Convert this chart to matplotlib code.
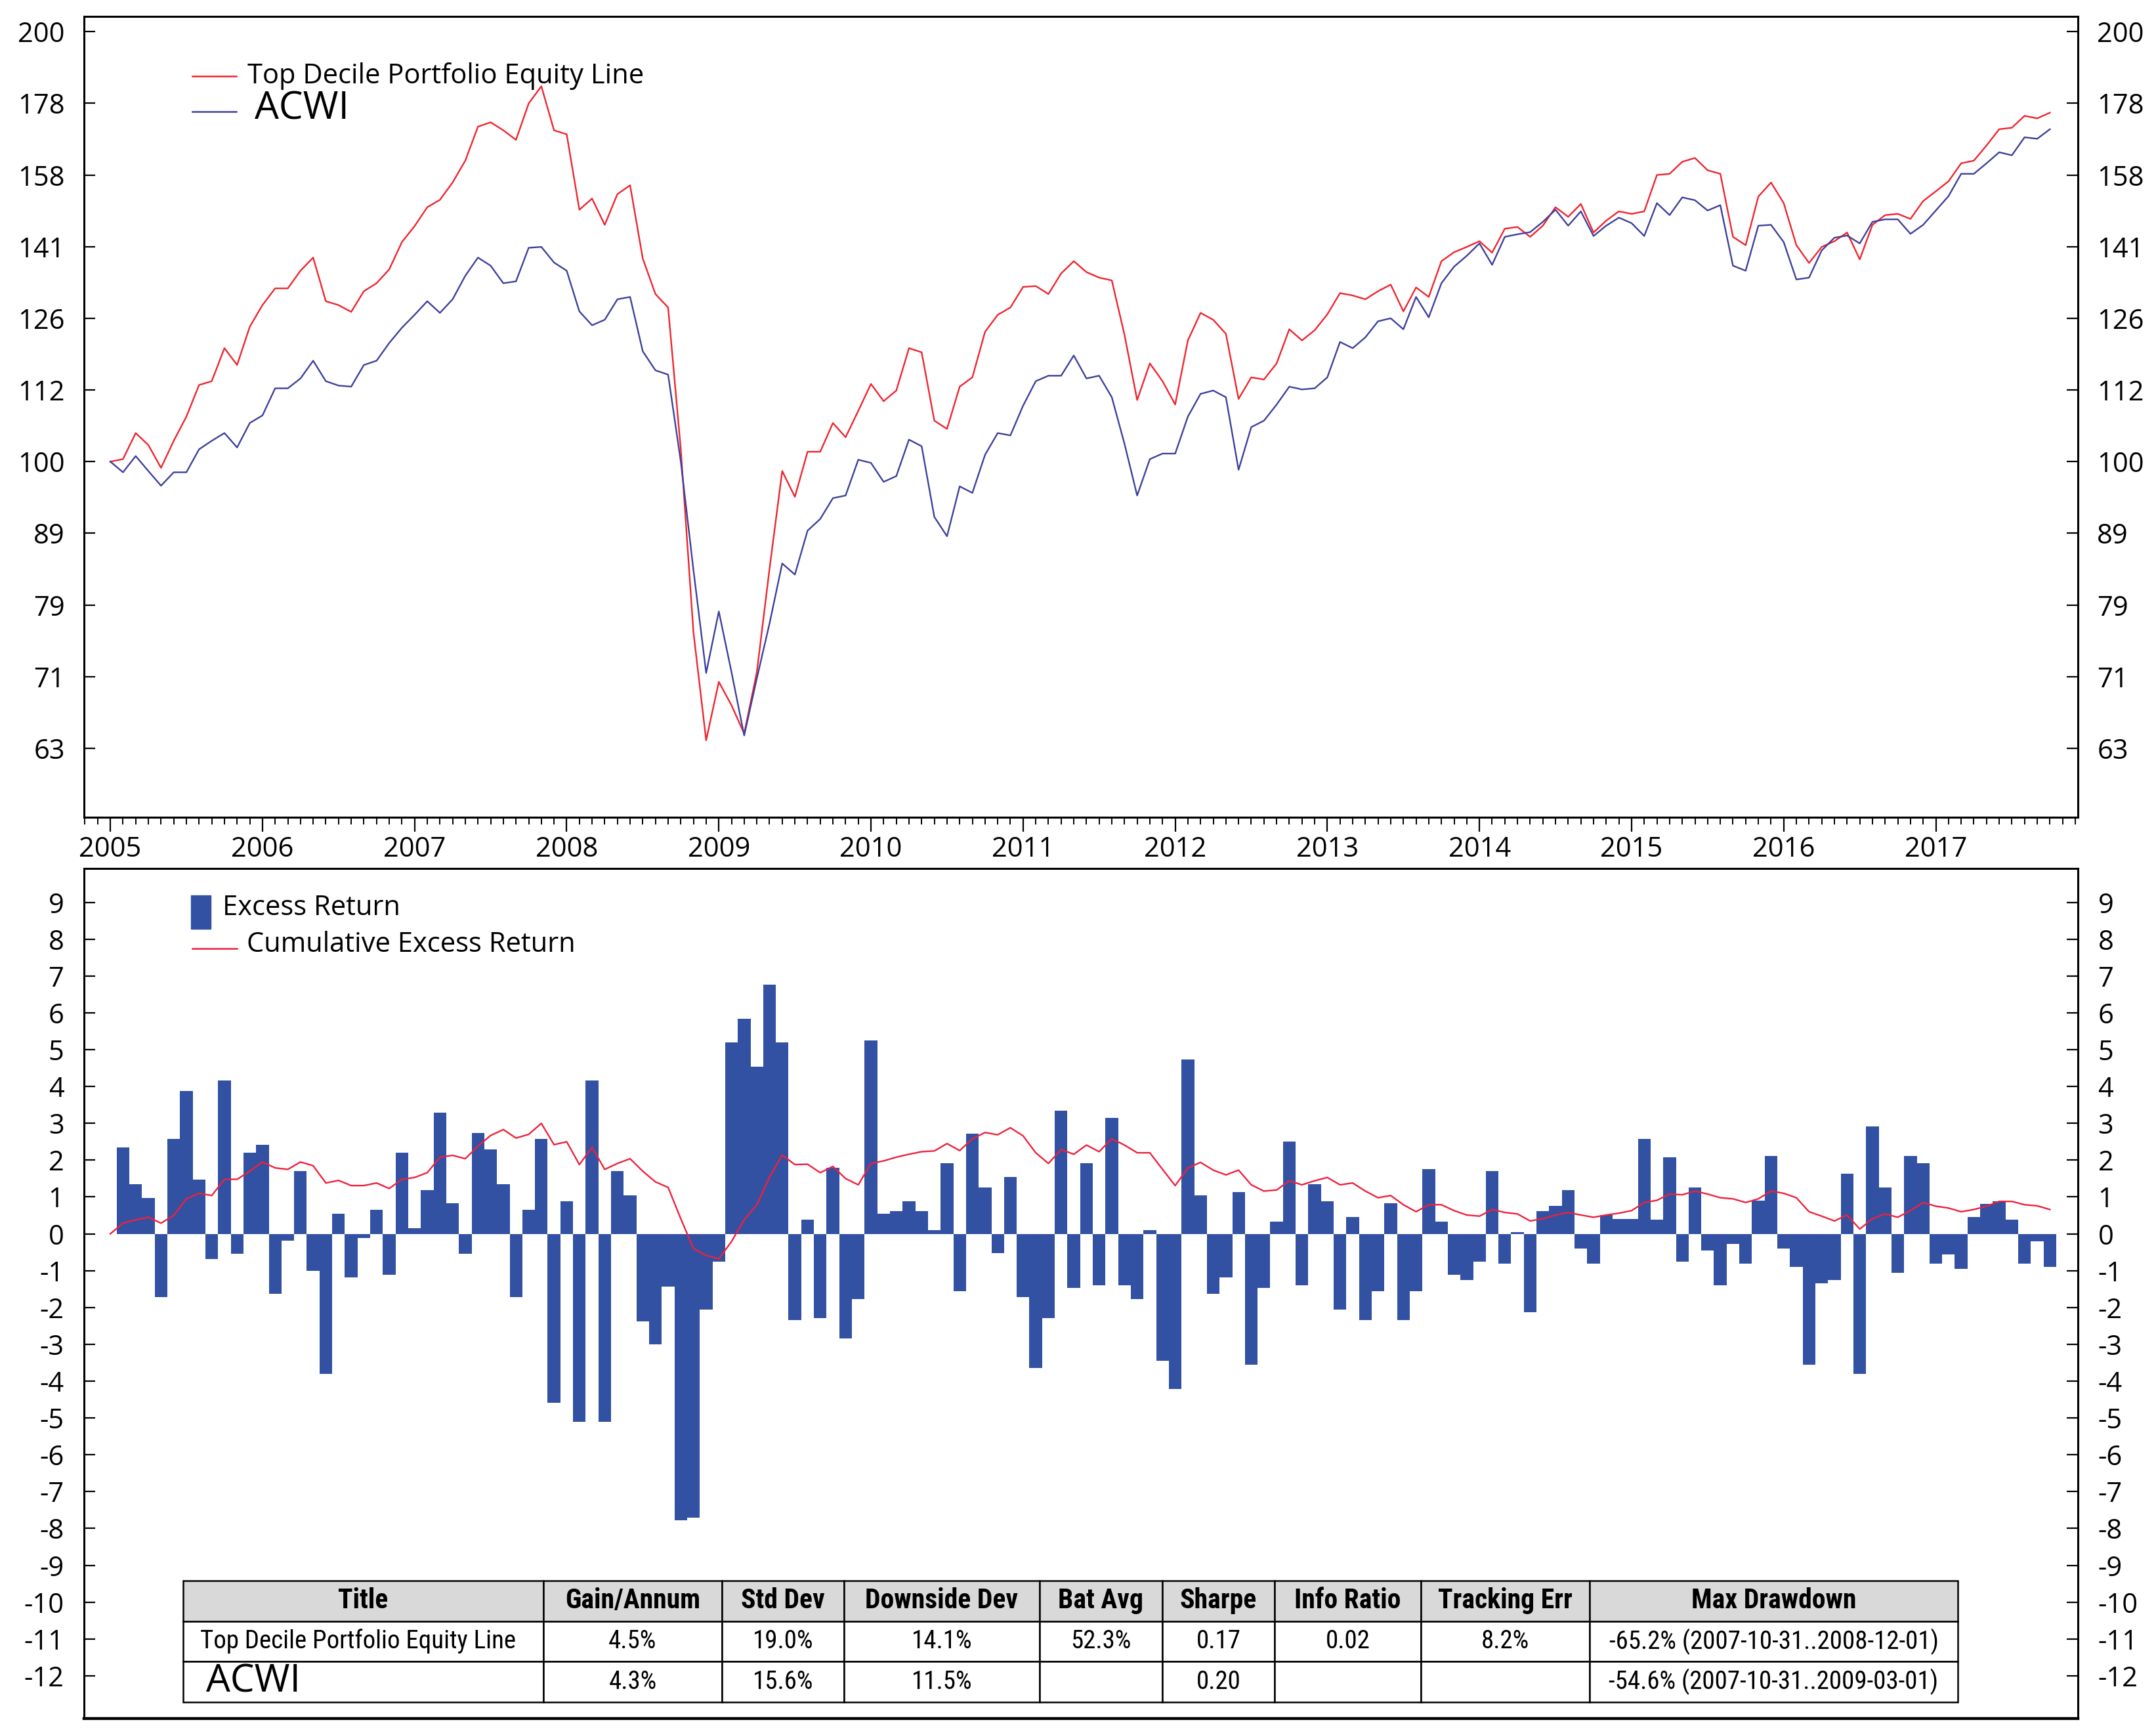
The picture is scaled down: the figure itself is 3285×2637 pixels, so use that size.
import numpy as np
import matplotlib
matplotlib.use('Agg')
import matplotlib.pyplot as plt
from matplotlib.lines import Line2D
from matplotlib.patches import Rectangle
from matplotlib import font_manager
from matplotlib.ticker import FixedLocator, NullLocator

plt.rcParams['font.family'] = ['Open Sans', 'DejaVu Sans']
plt.rcParams['axes.unicode_minus'] = False

# equity lines, monthly from Jan 2005 to Oct 2017 (start = 100)
portfolio = [
    100.0, 100.4, 104.7, 102.7, 99.0, 103.4, 107.5, 113.1, 113.8, 120.0, 116.8, 124.2,
    128.6, 132.1, 132.1, 135.9, 138.8, 129.4, 128.6, 127.2, 131.5, 133.2, 136.2, 142.3,
    146.0, 150.5, 152.3, 156.6, 162.2, 171.3, 172.5, 170.3, 167.7, 177.8, 182.8, 170.3,
    169.2, 149.9, 152.6, 146.3, 153.7, 155.9, 138.6, 130.9, 128.1, 102.0, 76.0, 63.9,
    70.2, 67.6, 64.6, 71.3, 84.2, 98.5, 94.5, 101.6, 101.6, 106.4, 104.0, 108.5,
    113.3, 110.2, 112.1, 120.0, 119.2, 106.8, 105.4, 112.8, 114.5, 123.2, 126.6, 128.1,
    132.4, 132.6, 130.9, 135.3, 138.0, 135.6, 134.4, 133.8, 122.6, 110.4, 117.1, 113.8,
    109.6, 121.5, 127.0, 125.6, 122.8, 110.6, 114.5, 114.1, 117.1, 123.7, 121.5, 123.5,
    126.7, 131.1, 130.6, 129.8, 131.5, 132.9, 127.3, 132.3, 130.3, 138.0, 140.0, 141.2,
    142.5, 139.9, 145.4, 145.8, 143.5, 146.1, 150.5, 148.2, 151.3, 144.5, 147.3, 149.5,
    148.9, 149.5, 158.5, 158.8, 161.9, 162.9, 159.7, 158.8, 143.5, 141.6, 153.1, 156.6,
    151.5, 141.6, 137.6, 141.2, 142.5, 144.5, 138.4, 146.3, 148.6, 148.9, 147.7, 152.0,
    154.4, 156.9, 161.5, 162.2, 166.2, 170.6, 171.0, 174.3, 173.6, 175.2,
]
acwi = [
    100.0, 98.3, 100.9, 98.5, 96.2, 98.3, 98.3, 102.0, 103.4, 104.7, 102.3, 106.4,
    107.7, 112.5, 112.5, 114.3, 117.6, 113.8, 113.0, 112.8, 116.8, 117.6, 121.0, 124.0,
    126.6, 129.4, 127.0, 129.8, 134.8, 138.8, 137.0, 133.2, 133.6, 141.0, 141.2, 137.7,
    135.9, 127.3, 124.5, 125.6, 129.8, 130.3, 119.4, 115.8, 115.0, 100.0, 84.0, 71.2,
    78.6, 71.3, 64.4, 70.6, 77.1, 84.9, 83.4, 89.5, 91.2, 94.3, 94.7, 100.3,
    99.8, 96.8, 97.7, 103.6, 102.5, 91.5, 88.7, 96.1, 95.1, 101.1, 104.7, 104.3,
    109.4, 113.8, 114.8, 114.8, 118.6, 114.3, 114.8, 110.9, 102.9, 94.7, 100.4, 101.3,
    101.3, 107.5, 111.5, 112.1, 110.9, 98.7, 105.7, 106.8, 109.6, 112.8, 112.3, 112.5,
    114.5, 121.2, 120.0, 122.1, 125.3, 125.9, 123.7, 130.3, 126.1, 133.2, 136.8, 139.2,
    142.0, 137.2, 143.5, 144.1, 144.6, 147.0, 149.9, 146.1, 149.5, 143.7, 146.1, 148.0,
    146.7, 143.7, 151.5, 148.6, 152.9, 152.2, 149.7, 151.0, 137.0, 135.9, 146.1, 146.3,
    142.3, 134.0, 134.4, 140.4, 143.3, 143.8, 142.0, 147.0, 147.6, 147.6, 144.2, 146.3,
    149.7, 153.2, 158.8, 158.8, 161.5, 164.4, 163.6, 168.4, 168.0, 170.6,
]

# monthly excess return (%), Feb 2005 .. Oct 2017
excess = [
    2.35, 1.35, 0.98, -1.71, 2.58, 3.88, 1.48, -0.69, 4.17, -0.55, 2.2, 2.41,
    -1.63, -0.18, 1.7, -1.0, -3.81, 0.54, -1.19, -0.11, 0.66, -1.11, 2.2, 0.16,
    1.19, 3.29, 0.83, -0.55, 2.73, 2.29, 1.35, -1.71, 0.66, 2.58, -4.59, 0.89,
    -5.11, 4.17, -5.11, 1.7, 1.04, -2.38, -3.0, -1.43, -7.78, -7.71, -2.06, -0.75,
    5.19, 5.83, 4.54, 6.76, 5.19, -2.34, 0.39, -2.28, 1.79, -2.84, -1.77, 5.25,
    0.54, 0.62, 0.89, 0.62, 0.1, 1.91, -1.55, 2.72, 1.26, -0.53, 1.54, -1.71,
    -3.65, -2.28, 3.35, -1.46, 1.91, -1.4, 3.14, -1.4, -1.78, 0.1, -3.44, -4.21,
    4.73, 1.04, -1.63, -1.19, 1.13, -3.56, -1.46, 0.33, 2.5, -1.4, 1.35, 0.89,
    -2.05, 0.45, -2.34, -1.55, 0.83, -2.34, -1.55, 1.76, 0.33, -1.11, -1.25, -0.75,
    1.7, -0.81, 0.05, -2.13, 0.62, 0.76, 1.19, -0.4, -0.81, 0.51, 0.41, 0.41,
    2.58, 0.39, 2.08, -0.75, 1.26, -0.46, -1.4, -0.28, -0.81, 0.9, 2.12, -0.4,
    -0.9, -3.56, -1.34, -1.25, 1.63, -3.8, 2.91, 1.26, -1.05, 2.12, 1.91, -0.81,
    -0.56, -0.96, 0.45, 0.81, 0.88, 0.39, -0.81, -0.21, -0.9,
]

# cumulative excess return line, Jan 2005 .. Oct 2017
cum_excess = [
    0.0, 0.29, 0.38, 0.45, 0.29, 0.5, 0.95, 1.1, 1.04, 1.48, 1.48, 1.7,
    1.95, 1.79, 1.75, 1.95, 1.85, 1.38, 1.45, 1.31, 1.31, 1.38, 1.23, 1.48,
    1.53, 1.66, 2.08, 2.13, 2.04, 2.38, 2.67, 2.83, 2.6, 2.7, 3.0, 2.42,
    2.5, 1.88, 2.35, 1.75, 1.91, 2.04, 1.7, 1.41, 1.26, 0.41, -0.4, -0.59,
    -0.68, -0.21, 0.38, 0.79, 1.54, 2.14, 1.88, 1.89, 1.66, 1.83, 1.5, 1.33,
    1.91, 1.98, 2.08, 2.16, 2.23, 2.25, 2.45, 2.26, 2.58, 2.75, 2.69, 2.88,
    2.66, 2.2, 1.91, 2.29, 2.16, 2.41, 2.23, 2.58, 2.41, 2.2, 2.2, 1.75,
    1.31, 1.79, 1.94, 1.73, 1.6, 1.73, 1.33, 1.16, 1.19, 1.44, 1.33, 1.44,
    1.53, 1.33, 1.38, 1.16, 0.98, 1.04, 0.79, 0.6, 0.79, 0.79, 0.63, 0.51,
    0.48, 0.66, 0.58, 0.54, 0.35, 0.41, 0.51, 0.58, 0.51, 0.45, 0.51, 0.56,
    0.63, 0.85, 0.91, 1.08, 1.06, 1.16, 1.08, 0.98, 0.95, 0.85, 0.95, 1.16,
    1.1, 0.98, 0.6, 0.48, 0.35, 0.51, 0.13, 0.41, 0.54, 0.45, 0.63, 0.85,
    0.75, 0.7, 0.6, 0.66, 0.75, 0.88, 0.88, 0.79, 0.76, 0.66,
]

years = list(range(2005, 2018))
top_tick_labels = ['63', '71', '79', '89', '100', '112', '126', '141', '158', '178', '200']

col_labels = ['Title', 'Gain/Annum', 'Std Dev', 'Downside Dev', 'Bat Avg', 'Sharpe',
              'Info Ratio', 'Tracking Err', 'Max Drawdown']
row_portfolio = ['Top Decile Portfolio Equity Line', '4.5%', '19.0%', '14.1%', '52.3%',
                 '0.17', '0.02', '8.2%', '-65.2% (2007-10-31..2008-12-01)']
row_acwi = ['ACWI', '4.3%', '15.6%', '11.5%', '', '0.20', '', '',
            '-54.6% (2007-10-31..2009-03-01)']

RED = '#f0232d'
BLUE = '#3c3f9c'
BAR = '#3251a3'
CUM = '#f0203c'

months = 2005 + np.arange(len(portfolio)) / 12
bar_x = 2005 + (np.arange(len(excess)) + 1) / 12

W, H = 3285, 2637
fig = plt.figure(figsize=(W / 100, H / 100), dpi=100)
ax1 = fig.add_axes([128 / W, 1 - 1245 / H, 3038 / W, 1220 / H])
ax2 = fig.add_axes([128 / W, 1 - 2618 / H, 3038 / W, 1295 / H])

xlim = (2004.827, 2017.934)

# ---- top: equity lines ----
ax1.plot(months, portfolio, color=RED, lw=1.7)
ax1.plot(months, acwi, color=BLUE, lw=1.7)
ax1.set_yscale('log')
ax1.set_ylim(56.47, 204.5)
ax1.yaxis.set_major_locator(FixedLocator(10 ** (2 + np.arange(-4, 7) / 20)))
ax1.yaxis.set_minor_locator(NullLocator())
ax1.set_yticklabels(top_tick_labels)
ax1.set_xlim(*xlim)
ax1.set_xticks(years)
ax1.set_xticklabels([str(y) for y in years])
ax1.xaxis.set_minor_locator(FixedLocator(2004 + np.arange(10, 168) / 12))
ax1.tick_params(axis='x', which='major', direction='out', length=16, width=1.6,
                labelsize=30, pad=4)
ax1.tick_params(axis='x', which='minor', direction='out', length=8, width=1.4)
ax1.tick_params(axis='y', which='major', direction='in', length=12.5, width=1.6,
                labelsize=30, pad=21, left=True, right=True, labelleft=True, labelright=True)

# legend drawn by hand
ax1.add_line(Line2D([0.0543, 0.0764], [0.9254, 0.9254], color=RED, lw=1.8,
                    transform=ax1.transAxes))
ax1.text(0.082, 0.9254, 'Top Decile Portfolio Equity Line', transform=ax1.transAxes,
         fontsize=30, va='center', ha='left')
ax1.add_line(Line2D([0.0543, 0.0764], [0.881, 0.881], color=BLUE, lw=1.8,
                    transform=ax1.transAxes))
ax1.text(0.0856, 0.884, 'ACWI', transform=ax1.transAxes, fontsize=42,
         va='center', ha='left')

# ---- bottom: excess return ----
ax2.bar(bar_x, excess, width=1 / 12, color=BAR, linewidth=0)
ax2.plot(months, cum_excess, color=CUM, lw=1.7)
ax2.set_xlim(*xlim)
ax2.set_ylim(-13.16, 9.92)
ax2.set_yticks(range(-12, 10))
ax2.tick_params(axis='x', bottom=False, labelbottom=False)
ax2.tick_params(axis='y', direction='in', length=12, width=1.6, labelsize=30, pad=22,
                left=True, right=True, labelleft=True, labelright=True)

ax2.add_patch(Rectangle((0.0537, 0.929), 0.0098, 0.0394, color=BAR,
                        transform=ax2.transAxes))
ax2.text(0.0695, 0.9537, 'Excess Return', transform=ax2.transAxes, fontsize=30,
         va='center', ha='left')
ax2.add_line(Line2D([0.0543, 0.0767], [0.9058, 0.9058], color=CUM, lw=1.8,
                    transform=ax2.transAxes))
ax2.text(0.0816, 0.9104, 'Cumulative Excess Return', transform=ax2.transAxes,
         fontsize=30, va='center', ha='left')

for ax in (ax1, ax2):
    for sp in ax.spines.values():
        sp.set_linewidth(2.2)
ax2.spines['bottom'].set_linewidth(3.2)

# ---- statistics table ----
names = {f.name for f in font_manager.fontManager.ttflist}
narrow, tsize = 'Open Sans', 22
for cand, size in [('Liberation Sans Narrow', 30), ('Roboto Condensed', 28),
                   ('Open Sans Condensed', 28), ('Noto Sans Condensed', 28)]:
    if cand in names:
        narrow, tsize = cand, size
        break

col_edges = np.array([279, 828, 1100, 1286, 1584, 1771, 1942, 2165, 2422, 2983])
widths = np.diff(col_edges) / np.diff(col_edges).sum()
tbl = ax2.table(cellText=[row_portfolio, row_acwi], colLabels=col_labels,
                colWidths=list(widths), cellLoc='center',
                bbox=[(279 - 128) / 3038, 25 / 1295, 2704 / 3038, 185 / 1295])
tbl.auto_set_font_size(False)
for (r, c), cell in tbl.get_celld().items():
    cell.set_linewidth(1.8)
    cell.set_edgecolor('black')
    txt = cell.get_text()
    txt.set_fontfamily(narrow)
    txt.set_fontsize(tsize)
    if r == 0:
        cell.set_facecolor('#d9d9d9')
        txt.set_fontweight('bold')
        txt.set_fontsize(tsize + 2)
    elif c == 0:
        txt.set_ha('left')
        cell.PAD = 0.048
        if r == 2:
            txt.set_fontfamily(['Open Sans', 'DejaVu Sans'])
            txt.set_fontsize(42)
            cell.PAD = 0.064

fig.savefig('out.png', dpi=100)
